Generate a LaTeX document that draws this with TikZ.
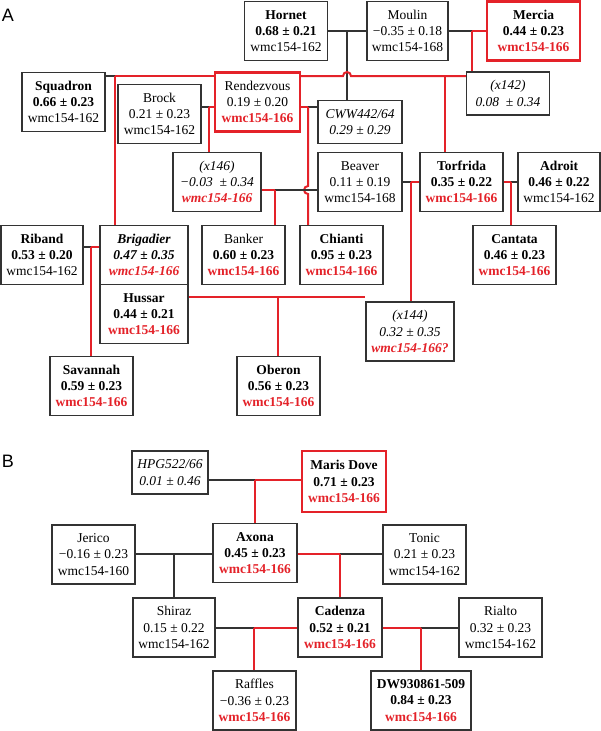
\documentclass[tikz,border=0pt]{standalone}
\usepackage{fontspec}
\setmainfont{Liberation Serif}
\setsansfont{Liberation Sans}
\usepackage{tikz}
\usetikzlibrary{positioning,calc}
\definecolor{cMark}{HTML}{E42229}
\definecolor{cLine}{HTML}{333333}
\newcommand{\mk}[1]{\textcolor{cMark}{\textbf{#1}}}
\tikzset{
  cv/.style={draw=cLine, line width=1.1pt, fill=white, align=center,
             font=\fontsize{13.5}{16.3}\selectfont, inner sep=1pt,
             minimum width=83pt, minimum height=59pt},
  cvsel/.style={cv, draw=cMark, line width=2.4pt},
  cvanc/.style={cv, minimum height=43pt},
  kin/.style={draw=cLine, line width=1.1pt},
  kinsel/.style={draw=cMark, line width=2pt},
  panel/.style={font=\sffamily\fontsize{18}{18}\selectfont, inner sep=0pt},
}

\begin{document}
\begin{tikzpicture}[x=1pt, y=-1pt]
  \useasboundingbox (0,0) rectangle (601,731);

  % panel A
  \node[panel] (lblA) at (8,15) {A};
  \node[cv] (hornet) at (286,31) {\textbf{Hornet}\\\textbf{0.68 ± 0.21}\\wmc154-162};
  \node[cv, minimum width=81pt] (moulin) at (407.5,31) {Moulin\\−0.35 ± 0.18\\wmc154-168};
  \node[cvsel, minimum width=93pt] (mercia) at (533.5,31) {\textbf{Mercia}\\\textbf{0.44 ± 0.23}\\\mk{wmc154-166}};
  \node[cv] (squadron) at (63.5,102) {\textbf{Squadron}\\\textbf{0.66 ± 0.23}\\wmc154-162};
  \node[cv] (brock) at (159.5,114) {Brock\\0.21 ± 0.23\\wmc154-162};
  \node[cvsel, minimum width=85pt] (rendez) at (257.5,102) {Rendezvous\\0.19 ± 0.20\\\mk{wmc154-166}};
  \node[cvanc, minimum width=84pt] (cww) at (360,122) {\textit{CWW442/64}\\\textit{0.29 ± 0.29}};
  \node[cvanc] (x142) at (508,93.5) {\textit{(x142)}\\\textit{0.08 \ ± 0.34}};
  \node[cv, minimum width=88pt] (x146) at (217,182) {\textit{(x146)}\\\textit{−0.03 \ ± 0.34}\\\mk{\textit{wmc154-166}}};
  \node[cv, minimum width=84pt] (beaver) at (360,182) {Beaver\\0.11 ± 0.19\\wmc154-168};
  \node[cv] (torfrida) at (461.5,182) {\textbf{Torfrida}\\\textbf{0.35 ± 0.22}\\\mk{wmc154-166}};
  \node[cv, minimum width=82pt] (adroit) at (559,182) {\textbf{Adroit}\\\textbf{0.46 ± 0.22}\\wmc154-162};
  \node[cv, minimum width=82pt] (riband) at (42,255) {\textbf{Riband}\\\textbf{0.53 ± 0.20}\\wmc154-162};
  \node[cv, minimum width=88pt] (brigadier) at (144,255) {\textbf{\textit{Brigadier}}\\\textbf{\textit{0.47 ± 0.35}}\\\mk{\textit{wmc154-166}}};
  \node[cv, minimum width=88pt, below=-1.1pt of brigadier] (hussar) {\textbf{Hussar}\\\textbf{0.44 ± 0.21}\\\mk{wmc154-166}};
  \node[cv] (banker) at (243.5,255) {Banker\\\textbf{0.60 ± 0.23}\\\mk{wmc154-166}};
  \node[cv] (chianti) at (341.5,255) {\textbf{Chianti}\\\textbf{0.95 ± 0.23}\\\mk{wmc154-166}};
  \node[cv] (cantata) at (514.5,255) {\textbf{Cantata}\\\textbf{0.46 ± 0.23}\\\mk{wmc154-166}};
  \node[cv, minimum width=88pt] (x144) at (410,331.5) {\textit{(x144)}\\\textit{0.32 ± 0.35}\\\mk{\textit{wmc154-166?}}};
  \node[cv] (savannah) at (91.5,386) {\textbf{Savannah}\\\textbf{0.59 ± 0.23}\\\mk{wmc154-166}};
  \node[cv] (oberon) at (278.5,386) {\textbf{Oberon}\\\textbf{0.56 ± 0.23}\\\mk{wmc154-166}};

  % crossing points, panel A
  \coordinate (jHM) at (347,31);
  \coordinate (jMM) at (472,31);
  \coordinate (jSR) at (115,76);
  \coordinate (jRX) at (445,76);
  \coordinate (jBR) at (209,107);
  \coordinate (jRC) at (308,107);
  \coordinate (jXB) at (275,190);
  \coordinate (jBT) at (411,182);
  \coordinate (jTA) at (511,182);
  \coordinate (jRB) at (91,247);
  \coordinate (jHX) at (278,297);

  \draw[kin] (hornet.east) -- (moulin.west);
  \draw[kin] (jHM) -- (jHM |- cww.north);

  \draw[kin] (moulin.east) -- (jMM);
  \draw[kinsel] (jMM) -- (mercia.west);
  \draw[kinsel] (jMM) -- (jMM |- x142.north);

  \draw[kin] (jSR -| squadron.east) -- (jSR);
  \draw[kinsel] (jSR) -- (jSR -| rendez.west);
  \draw[kinsel] (jSR) -- (jSR |- brigadier.north);

  % hop over the Hornet x Moulin line
  \draw[kinsel] (jRX -| rendez.east) -- ($(jRX -| jHM)+(-4,0)$)
    arc[start angle=180, end angle=0, radius=4pt] -- (jRX -| x142.west);
  \draw[kinsel] (jRX) -- (jRX |- torfrida.north);

  \draw[kin] (jBR -| brock.east) -- (jBR);
  \draw[kinsel] (jBR) -- (jBR -| rendez.west);
  \draw[kinsel] (jBR) -- (jBR |- x146.north);

  \draw[kinsel] (jRC -| rendez.east) -- (jRC);
  \draw[kin] (jRC) -- (jRC -| cww.west);
  \draw[kinsel] (jRC) -- ($(jRC |- jXB)+(0,-4)$)
    arc[start angle=90, end angle=270, radius=4pt] -- (jRC |- chianti.north);

  \draw[kinsel] (jXB -| x146.east) -- (jXB);
  \draw[kin] (jXB) -- (jXB -| beaver.west);
  \draw[kinsel] (jXB) -- (jXB |- banker.north);

  \draw[kin] (jBT -| beaver.east) -- (jBT);
  \draw[kinsel] (jBT) -- (jBT -| torfrida.west);
  \draw[kinsel] (jBT) -- (jBT |- x144.north);

  \draw[kinsel] (jTA -| torfrida.east) -- (jTA);
  \draw[kin] (jTA) -- (jTA -| adroit.west);
  \draw[kinsel] (jTA) -- (jTA |- cantata.north);

  \draw[kin] (jRB -| riband.east) -- (jRB);
  \draw[kinsel] (jRB) -- (jRB -| brigadier.west);
  \draw[kinsel] (jRB) -- (jRB |- savannah.north);

  \draw[kinsel] (jHX -| hussar.east) -- (jHX -| x144.west);
  \draw[kinsel] (jHX) -- (jHX |- oberon.north);

  % panel B
  \node[panel] (lblB) at (8,461) {B};
  \node[cvanc, minimum width=76pt] (hpg) at (170,472.5) {\textit{HPG522/66}\\\textit{0.01 ± 0.46}};
  \node[cvsel, minimum width=84pt, minimum height=61pt] (marisdove) at (344,481.5) {\textbf{Maris Dove}\\\textbf{0.71 ± 0.23}\\\mk{wmc154-166}};
  \node[cv, minimum width=84pt] (axona) at (255,553) {\textbf{Axona}\\\textbf{0.45 ± 0.23}\\\mk{wmc154-166}};
  \node[cv] (jerico) at (93.5,554.5) {Jerico\\−0.16 ± 0.23\\wmc154-160};
  \node[cv] (tonic) at (424.5,554.5) {Tonic\\0.21 ± 0.23\\wmc154-162};
  \node[cv, minimum width=82pt] (shiraz) at (174,627.5) {Shiraz\\0.15 ± 0.22\\wmc154-162};
  \node[cv, minimum width=84pt] (cadenza) at (340,627.5) {\textbf{Cadenza}\\\textbf{0.52 ± 0.21}\\\mk{wmc154-166}};
  \node[cv] (rialto) at (500.5,627.5) {Rialto\\0.32 ± 0.23\\wmc154-162};
  \node[cv] (raffles) at (254.5,700.5) {Raffles\\−0.36 ± 0.23\\\mk{wmc154-166}};
  \node[cv, minimum width=100pt] (dw) at (421,700.5) {\textbf{DW930861-509}\\\textbf{0.84 ± 0.23}\\\mk{wmc154-166}};

  \coordinate (jHD) at (255,480);
  \coordinate (jJA) at (174,554);
  \coordinate (jAT) at (340,554);
  \coordinate (jSC) at (254,628);
  \coordinate (jCR) at (421,628);

  \draw[kin] (jHD -| hpg.east) -- (jHD);
  \draw[kinsel] (jHD) -- (jHD -| marisdove.west);
  \draw[kinsel] (jHD) -- (jHD |- axona.north);

  \draw[kin] (jJA -| jerico.east) -- (jJA -| axona.west);
  \draw[kin] (jJA) -- (jJA |- shiraz.north);

  \draw[kin] (jAT) -- (jAT -| tonic.west);
  \draw[kinsel] (jAT -| axona.east) -- (jAT);
  \draw[kinsel] (jAT) -- (jAT |- cadenza.north);

  \draw[kin] (jSC -| shiraz.east) -- (jSC);
  \draw[kinsel] (jSC) -- (jSC -| cadenza.west);
  \draw[kinsel] (jSC) -- (jSC |- raffles.north);

  \draw[kin] (jCR) -- (jCR -| rialto.west);
  \draw[kinsel] (jCR -| cadenza.east) -- (jCR);
  \draw[kinsel] (jCR) -- (jCR |- dw.north);
\end{tikzpicture}
\end{document}
